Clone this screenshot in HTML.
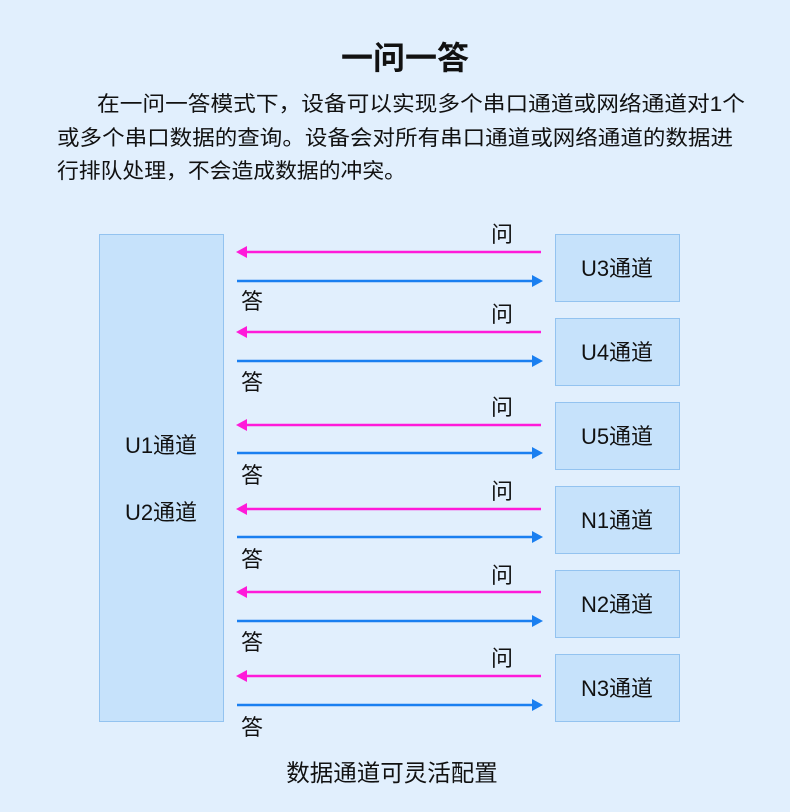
<!DOCTYPE html>
<html><head><meta charset="utf-8"><style>
html,body{margin:0;padding:0;background:#e1effd;}
svg{display:block}
text{font-family:"Liberation Sans","Noto Sans CJK SC",sans-serif;fill:#111;}
</style></head><body>
<svg width="790" height="812" viewBox="0 0 790 812" xmlns="http://www.w3.org/2000/svg">
<rect x="0" y="0" width="790" height="812" fill="#e1effd"/>
<text x="405" y="69" font-size="32" font-weight="bold" text-anchor="middle">一问一答</text>
<text x="97" y="111" font-size="21" textLength="648" lengthAdjust="spacingAndGlyphs">在一问一答模式下，设备可以实现多个串口通道或网络通道对1个</text>
<text x="57" y="145" font-size="21" textLength="676" lengthAdjust="spacingAndGlyphs">或多个串口数据的查询。设备会对所有串口通道或网络通道的数据进</text>
<text x="57" y="178" font-size="21" textLength="349" lengthAdjust="spacingAndGlyphs">行排队处理，不会造成数据的冲突。</text>

<rect x="99.5" y="234.5" width="124" height="487" fill="#c6e2fb" stroke="#93c3f0"/>
<text x="161" y="453" font-size="22" text-anchor="middle">U1通道</text>
<text x="161" y="520" font-size="22" text-anchor="middle">U2通道</text>

<g>
<rect x="555.5" y="234.5" width="124" height="67" fill="#c6e2fb" stroke="#93c3f0"/>
<text x="617" y="276" font-size="22" text-anchor="middle">U3通道</text>
<rect x="555.5" y="318.5" width="124" height="67" fill="#c6e2fb" stroke="#93c3f0"/>
<text x="617" y="360" font-size="22" text-anchor="middle">U4通道</text>
<rect x="555.5" y="402.5" width="124" height="67" fill="#c6e2fb" stroke="#93c3f0"/>
<text x="617" y="444" font-size="22" text-anchor="middle">U5通道</text>
<rect x="555.5" y="486.5" width="124" height="67" fill="#c6e2fb" stroke="#93c3f0"/>
<text x="617" y="528" font-size="22" text-anchor="middle">N1通道</text>
<rect x="555.5" y="570.5" width="124" height="67" fill="#c6e2fb" stroke="#93c3f0"/>
<text x="617" y="612" font-size="22" text-anchor="middle">N2通道</text>
<rect x="555.5" y="654.5" width="124" height="67" fill="#c6e2fb" stroke="#93c3f0"/>
<text x="617" y="696" font-size="22" text-anchor="middle">N3通道</text>
</g>

<g stroke="#ff1ad9" stroke-width="2.5">
<line x1="541" y1="252" x2="244" y2="252"/>
<line x1="541" y1="332" x2="244" y2="332"/>
<line x1="541" y1="425" x2="244" y2="425"/>
<line x1="541" y1="509" x2="244" y2="509"/>
<line x1="541" y1="592" x2="244" y2="592"/>
<line x1="541" y1="676" x2="244" y2="676"/>
</g>
<g fill="#ff1ad9">
<polygon points="236,252 247,246 247,258"/>
<polygon points="236,332 247,326 247,338"/>
<polygon points="236,425 247,419 247,431"/>
<polygon points="236,509 247,503 247,515"/>
<polygon points="236,592 247,586 247,598"/>
<polygon points="236,676 247,670 247,682"/>
</g>
<g stroke="#1a7ff0" stroke-width="2.5">
<line x1="237" y1="281" x2="534" y2="281"/>
<line x1="237" y1="361" x2="534" y2="361"/>
<line x1="237" y1="453" x2="534" y2="453"/>
<line x1="237" y1="537" x2="534" y2="537"/>
<line x1="237" y1="621" x2="534" y2="621"/>
<line x1="237" y1="705" x2="534" y2="705"/>
</g>
<g fill="#1a7ff0">
<polygon points="543,281 532,275 532,287"/>
<polygon points="543,361 532,355 532,367"/>
<polygon points="543,453 532,447 532,459"/>
<polygon points="543,537 532,531 532,543"/>
<polygon points="543,621 532,615 532,627"/>
<polygon points="543,705 532,699 532,711"/>
</g>

<g font-size="22">
<text x="491" y="242">问</text>
<text x="491" y="322">问</text>
<text x="491" y="415">问</text>
<text x="491" y="499">问</text>
<text x="491" y="583">问</text>
<text x="491" y="666">问</text>
<text x="241" y="309">答</text>
<text x="241" y="390">答</text>
<text x="241" y="483">答</text>
<text x="241" y="567">答</text>
<text x="241" y="650">答</text>
<text x="241" y="735">答</text>
</g>

<text x="392" y="781" font-size="23.5" text-anchor="middle">数据通道可灵活配置</text>
</svg>
</body></html>
